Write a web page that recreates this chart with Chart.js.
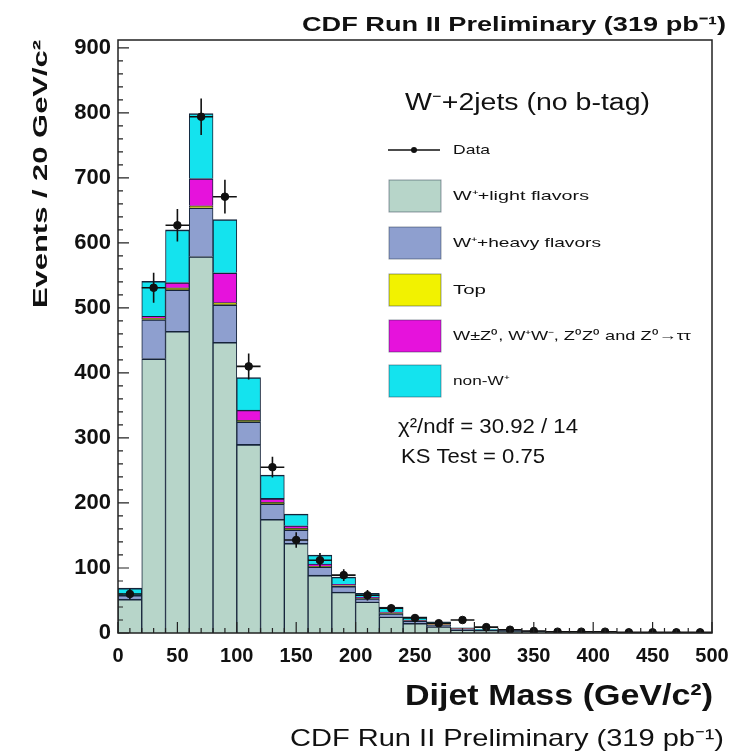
<!DOCTYPE html>
<html lang="en">
<head>
<meta charset="UTF-8">
<title>Dijet Mass</title>
<style>
  html, body { margin: 0; padding: 0; background: #fff; }
  #wrap { width: 735px; height: 756px; position: relative; }
</style>
</head>
<body>
<div id="wrap"><canvas id="myChart"></canvas></div>

<script src="https://cdn.jsdelivr.net/npm/chart.js@4.4.0/dist/chart.umd.min.js"></script>
<script>
// bins of 20 GeV/c^2, centres
const binCenters = [10, 30, 50, 70, 90, 110, 130, 150, 170, 190, 210, 230, 250, 270, 290,
                    310, 330, 350, 370, 390, 410, 430, 450, 470, 490];
const lightFlavor = [52, 422, 464, 579, 447, 290, 175, 138, 89, 63, 48, 25, 15, 10, 5,
                     4, 3, 2, 1.5, 1.5, 1, 1, 0.8, 0.8, 0.5];
const heavyFlavor = [6, 60, 64, 75, 58, 35, 24, 21, 13, 9, 5, 5, 3, 2, 1,
                     1, 1, 0.5, 0.3, 0.3, 0.2, 0.2, 0.1, 0.1, 0.1];
const topQuark = [0, 2, 3, 3, 3, 2, 2, 2, 1, 1, 1, 1, 1, 1, 0.5,
                  0, 0, 0, 0, 0, 0, 0, 0, 0, 0];
const diboson = [0, 3, 8, 42, 46, 16, 6, 4, 3, 2, 1, 1, 1, 0.5, 0.5,
                 0, 0, 0, 0, 0, 0, 0, 0, 0, 0];
const nonW = [11, 54, 81, 100, 82, 50, 36, 18, 14, 11, 6, 8, 5, 3.5, 1,
              1, 1, 0.5, 0.2, 0.2, 0.3, 0, 0.1, 0.1, 0];
const dataCounts = [60, 531, 627, 794, 671, 410, 255, 143, 112, 89, 58, 38, 23, 15, 20,
                    9, 5, 3, 2, 2, 2, 1, 1, 1, 1];
const dataErrors = [8, 23, 25, 28, 26, 20, 16, 12, 11, 9, 8, 6, 5, 4, 4.5,
                    3, 2.2, 1.7, 1.4, 1.4, 1.4, 1, 1, 1, 1];
const xTicks = [0, 50, 100, 150, 200, 250, 300, 350, 400, 450, 500];
const yTicks = [0, 100, 200, 300, 400, 500, 600, 700, 800, 900];

const colors = {
  light: '#b7d5c9',
  heavy: '#8e9fcf',
  top: '#f2f200',
  diboson: '#e612dc',
  nonW: '#14e3ee',
  line: '#15233a'
};

function pts(arr) {
  return arr.map((v, i) => ({ x: binCenters[i], y: v }));
}

function barSet(label, arr, color) {
  return {
    type: 'bar',
    label: label,
    data: pts(arr),
    backgroundColor: color,
    borderColor: colors.line,
    borderWidth: { top: 1.6, left: 1, right: 1, bottom: 0 },
    borderSkipped: 'bottom',
    barPercentage: 1,
    categoryPercentage: 1,
    stack: 'mc'
  };
}

const font = '"Liberation Sans", Arial, sans-serif';

// draw text squeezed/stretched to a given width (the original plot has wide lettering)
function fitText(ctx, text, x, y, width, align) {
  const w = ctx.measureText(text).width;
  const k = width / w;
  ctx.save();
  ctx.textAlign = 'left';
  ctx.translate(align === 'right' ? x - width : x, y);
  ctx.scale(k, 1);
  ctx.fillText(text, 0, 0);
  ctx.restore();
}

const decor = {
  id: 'decor',
  afterDatasetsDraw(chart) {
    const ctx = chart.ctx;
    const xs = chart.scales.x, ys = chart.scales.y;
    ctx.save();
    ctx.strokeStyle = '#111';
    ctx.lineWidth = 1.6;
    dataCounts.forEach((v, i) => {
      const x = xs.getPixelForValue(binCenters[i]);
      const y = ys.getPixelForValue(v);
      ctx.beginPath();
      ctx.moveTo(x, ys.getPixelForValue(v + dataErrors[i]));
      ctx.lineTo(x, ys.getPixelForValue(Math.max(0, v - dataErrors[i])));
      ctx.moveTo(xs.getPixelForValue(binCenters[i] - 10), y);
      ctx.lineTo(xs.getPixelForValue(binCenters[i] + 10), y);
      ctx.stroke();
    });
    ctx.restore();
  },
  afterDraw(chart) {
    const ctx = chart.ctx;
    const a = chart.chartArea;
    const xs = chart.scales.x, ys = chart.scales.y;
    ctx.save();

    // frame
    ctx.strokeStyle = '#222';
    ctx.lineWidth = 1.5;
    ctx.strokeRect(a.left, a.top, a.right - a.left, a.bottom - a.top);

    // inward ticks
    ctx.lineWidth = 1.2;
    ctx.beginPath();
    for (let v = 0; v <= 900; v += 20) {
      const y = ys.getPixelForValue(v);
      const len = v % 100 === 0 ? 11 : 5;
      ctx.moveTo(a.left, y);
      ctx.lineTo(a.left + len, y);
    }
    for (let v = 0; v <= 500; v += 10) {
      const x = xs.getPixelForValue(v);
      const len = v % 50 === 0 ? 11 : 5;
      ctx.moveTo(x, a.bottom);
      ctx.lineTo(x, a.bottom - len);
    }
    ctx.stroke();

    ctx.fillStyle = '#111';
    ctx.textBaseline = 'alphabetic';

    // top caption
    ctx.font = 'bold 21px ' + font;
    fitText(ctx, 'CDF Run II Preliminary (319 pb\u207B\u00B9)', 726, 31, 424, 'right');

    // bottom caption
    ctx.font = '24px ' + font;
    fitText(ctx, 'CDF Run II Preliminary (319 pb\u207B\u00B9)', 724, 746, 434, 'right');

    // x axis title
    ctx.font = 'bold 30px ' + font;
    fitText(ctx, 'Dijet Mass (GeV/c\u00B2)', 713, 705, 308, 'right');

    // y axis title
    ctx.save();
    ctx.translate(47, 40);
    ctx.rotate(-Math.PI / 2);
    ctx.font = 'bold 21px ' + font;
    fitText(ctx, 'Events / 20 GeV/c\u00B2', 0, 0, 268, 'right');
    ctx.restore();

    // legend
    ctx.textBaseline = 'middle';
    ctx.font = '23px ' + font;
    fitText(ctx, 'W\u207B+2jets (no b-tag)', 405, 104, 245);

    ctx.strokeStyle = '#111';
    ctx.lineWidth = 1.4;
    ctx.beginPath();
    ctx.moveTo(388, 150);
    ctx.lineTo(440, 150);
    ctx.stroke();
    ctx.beginPath();
    ctx.arc(414, 150, 3, 0, Math.PI * 2);
    ctx.fill();
    ctx.font = '13px ' + font;
    fitText(ctx, 'Data', 453, 150, 37);

    const entries = [
      ['W\u207A+light flavors', colors.light, 196, 136],
      ['W\u207A+heavy flavors', colors.heavy, 243, 148],
      ['Top', colors.top, 290, 33],
      ['W\u00B1Z\u2070, W\u207AW\u207B, Z\u2070Z\u2070 and Z\u2070\u2192\u03C4\u03C4', colors.diboson, 336, 238],
      ['non-W\u207A', colors.nonW, 381, 56]
    ];
    entries.forEach(([label, col, y, w]) => {
      ctx.fillStyle = col;
      ctx.fillRect(389, y - 16, 52, 32);
      ctx.strokeStyle = 'rgba(20,35,60,0.45)';
      ctx.lineWidth = 1;
      ctx.strokeRect(389, y - 16, 52, 32);
      ctx.fillStyle = '#111';
      fitText(ctx, label, 453, y, w);
    });

    ctx.font = '21px ' + font;
    fitText(ctx, '\u03C7\u00B2/ndf = 30.92 / 14', 398, 427, 180);
    fitText(ctx, 'KS Test = 0.75', 401, 457, 144);

    ctx.restore();
  }
};

const ctx = document.getElementById('myChart').getContext('2d');
const chart = new Chart(ctx, {
  data: {
    datasets: [
      barSet('W+light flavors', lightFlavor, colors.light),
      barSet('W+heavy flavors', heavyFlavor, colors.heavy),
      barSet('Top', topQuark, colors.top),
      barSet('Diboson', diboson, colors.diboson),
      barSet('non-W', nonW, colors.nonW),
      {
        type: 'line',
        label: 'Data',
        data: pts(dataCounts),
        showLine: false,
        pointRadius: 3.8,
        pointBackgroundColor: '#111',
        pointBorderColor: '#111',
        stack: 'data',
        order: -1
      }
    ]
  },
  options: {
    responsive: true,
    maintainAspectRatio: false,
    animation: false,
    layout: { padding: { left: 0, right: 23, top: 40, bottom: 0 } },
    plugins: {
      legend: { display: false },
      tooltip: { enabled: false },
      title: { display: false }
    },
    scales: {
      x: {
        type: 'linear',
        min: 0,
        max: 500,
        offset: false,
        stacked: true,
        grid: { display: false, drawTicks: false, offset: false },
        border: { display: false },
        afterBuildTicks(s) { s.ticks = xTicks.map(v => ({ value: v })); },
        afterFit(s) { s.height = 123; s.paddingLeft = 0; s.paddingRight = 0; },
        ticks: {
          padding: 11,
          maxRotation: 0,
          color: '#111',
          font: { family: font, size: 20, weight: 'bold' }
        }
      },
      y: {
        min: 0,
        max: 912,
        stacked: true,
        grid: { display: false, drawTicks: false },
        border: { display: false },
        afterBuildTicks(s) { s.ticks = yTicks.map(v => ({ value: v })); },
        afterFit(s) { s.width = 118; s.paddingTop = 0; s.paddingBottom = 0; },
        ticks: {
          padding: 7,
          color: '#111',
          font: { family: font, size: 22, weight: 'bold' }
        }
      }
    }
  },
  plugins: [decor]
});
</script>
</body>
</html>
